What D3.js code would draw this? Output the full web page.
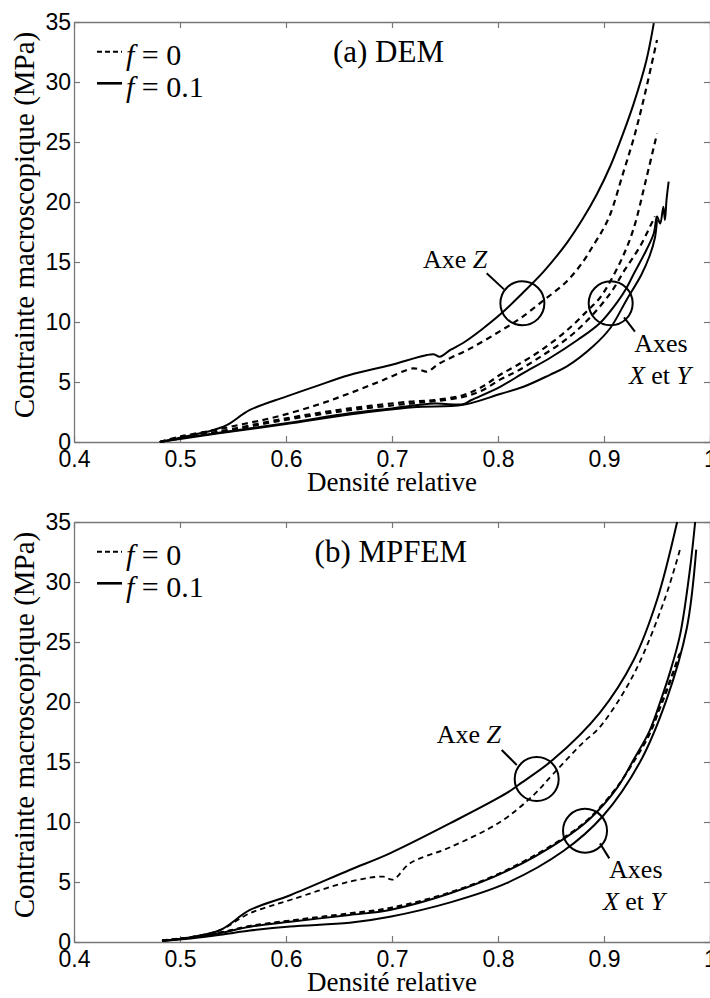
<!DOCTYPE html>
<html><head><meta charset="utf-8">
<script src="https://cdn.jsdelivr.net/npm/d3@7"></script>
<style>body{margin:0;background:#fff}svg{display:block}</style>
</head><body>
<script>
// ---------- data ----------
const xTicks = [0.4, 0.5, 0.6, 0.7, 0.8, 0.9, 1.0];
const xTickLabels = ["0.4", "0.5", "0.6", "0.7", "0.8", "0.9", "1"];
const yTicks = [0, 5, 10, 15, 20, 25, 30, 35];
const xLabel = "Densité relative";
const yLabel = "Contrainte macroscopique (MPa)";
const legendLabels = ["= 0", "= 0.1"];

// (a) DEM
const demZ_f01 = [[0.481,0],[0.50,0.35],[0.52,0.75],[0.528,0.9],[0.544,1.4],[0.566,2.67],[0.60,3.78],[0.63,4.7],[0.66,5.58],[0.698,6.4],[0.733,7.25],[0.74,7.3],[0.745,7.1],[0.755,7.67],[0.767,8.25],[0.785,9.4],[0.803,10.7],[0.823,12.4],[0.843,14.2],[0.865,16.6],[0.88,18.6],[0.893,20.6],[0.906,23.0],[0.918,25.7],[0.928,28.2],[0.94,31.8],[0.947,34.9]];
const demZ_f0 = [[0.481,0],[0.50,0.45],[0.53,0.95],[0.56,1.5],[0.591,2.1],[0.629,3.08],[0.66,4.06],[0.692,5.17],[0.72,6.14],[0.727,6.0],[0.733,5.86],[0.745,6.56],[0.774,7.8],[0.805,9.4],[0.821,10.3],[0.843,11.8],[0.865,13.4],[0.88,15.0],[0.89,16.4],[0.899,17.7],[0.906,19.0],[0.918,22.4],[0.928,25.3],[0.937,28.4],[0.950,33.5]];
const demX_f01 = [[0.481,0],[0.50,0.3],[0.535,0.75],[0.60,1.56],[0.66,2.39],[0.70,2.8],[0.74,3.2],[0.767,3.15],[0.775,3.5],[0.802,4.6],[0.825,5.8],[0.849,7.0],[0.875,8.5],[0.896,9.9],[0.912,11.6],[0.921,12.8],[0.928,14.0],[0.940,16.0],[0.947,17.4],[0.950,18.8],[0.953,18.2],[0.956,19.6],[0.9575,18.5],[0.959,20.2],[0.961,21.7]];
const demY_f01 = [[0.481,0],[0.50,0.25],[0.535,0.7],[0.60,1.5],[0.66,2.3],[0.72,2.9],[0.767,3.1],[0.802,4.0],[0.824,4.6],[0.849,5.6],[0.865,6.3],[0.89,8.0],[0.906,9.5],[0.921,11.8],[0.935,13.9],[0.943,15.5],[0.948,17.0],[0.950,18.5]];
const demX_f0 = [[0.481,0],[0.50,0.4],[0.535,0.85],[0.60,1.97],[0.66,2.8],[0.717,3.36],[0.74,3.5],[0.767,3.9],[0.785,4.6],[0.802,5.6],[0.818,6.4],[0.84,7.6],[0.865,9.3],[0.885,11.0],[0.896,12.0],[0.906,13.4],[0.918,15.5],[0.928,17.8],[0.94,22.0],[0.950,25.7]];
const demY_f0 = [[0.481,0],[0.50,0.35],[0.535,0.8],[0.60,1.85],[0.66,2.65],[0.717,3.2],[0.74,3.4],[0.767,3.75],[0.785,4.3],[0.802,5.2],[0.818,5.9],[0.84,7.1],[0.865,8.6],[0.885,10.2],[0.906,12.4],[0.92,14.4],[0.934,16.3],[0.948,18.8]];

// (b) MPFEM
const mpZ_f01 = [[0.483,0.1],[0.51,0.4],[0.538,1.0],[0.566,2.67],[0.604,3.9],[0.66,6.0],[0.698,7.39],[0.755,9.9],[0.808,12.4],[0.821,13.2],[0.852,15.2],[0.896,19.1],[0.928,23.5],[0.950,28.5],[0.969,35.0]];
const mpZ_f0 = [[0.483,0.1],[0.51,0.4],[0.538,1.0],[0.566,2.4],[0.604,3.5],[0.66,5.03],[0.692,5.44],[0.701,5.2],[0.717,6.56],[0.755,7.9],[0.802,10.0],[0.833,12.2],[0.852,14.0],[0.88,16.6],[0.896,17.9],[0.928,22.3],[0.957,28.5],[0.972,32.8]];
const mpX_f01 = [[0.483,0.1],[0.51,0.35],[0.538,0.75],[0.566,1.28],[0.604,1.69],[0.66,2.25],[0.698,2.67],[0.755,4.06],[0.808,5.9],[0.862,8.6],[0.887,10.3],[0.912,12.8],[0.928,15.2],[0.943,17.6],[0.953,20.0],[0.963,22.7],[0.972,25.7],[0.981,31.0],[0.986,35.0]];
const mpY_f01 = [[0.483,0.1],[0.51,0.3],[0.538,0.6],[0.566,0.95],[0.604,1.3],[0.66,1.6],[0.698,2.1],[0.755,3.3],[0.808,4.9],[0.862,7.6],[0.899,10.5],[0.934,15.0],[0.959,20.2],[0.978,26.1],[0.987,32.7]];
const mpX_f0 = [[0.483,0.15],[0.51,0.4],[0.538,0.8],[0.566,1.35],[0.604,1.8],[0.66,2.4],[0.698,2.85],[0.755,4.15],[0.808,6.0],[0.862,8.7],[0.887,10.4],[0.912,12.9],[0.928,15.0],[0.943,17.3],[0.953,19.5],[0.963,21.8],[0.972,24.1]];
const mpY_f0 = [[0.483,0.12],[0.51,0.38],[0.538,0.78],[0.566,1.3],[0.604,1.75],[0.66,2.32],[0.698,2.75],[0.755,4.1],[0.808,5.95],[0.862,8.65],[0.887,10.35],[0.912,12.85],[0.928,15.1],[0.943,17.4],[0.953,19.7],[0.963,22.0],[0.971,24.0]];

// annotation anchors (data units)
const demAnnot = {zCircle:[0.823,11.56], xyCircle:[0.9063,11.56], zLead:[[0.7893,14.06],[0.8057,12.72]], xyLead:[[0.9189,10.39],[0.9292,9.19]], zText:[0.7292,14.5], axesText:[0.9538,7.53], xyText:[0.9528,4.83]};
const mpAnnot = {zCircle:[0.8365,13.58], xyCircle:[0.8821,9.27], zLead:[[0.8035,16.0],[0.8177,14.75]], xyLead:[[0.8962,8.22],[0.905,6.97]], zText:[0.7422,16.6], axesText:[0.930,5.33], xyText:[0.9283,2.67]};

const panels = [
  {title:"(a) DEM", titleX:0.6443, top:22, bottom:442, dashW:2.2, dash:"6,4.5",
   solid:[demZ_f01, demX_f01, demY_f01], dashed:[demZ_f0, demX_f0, demY_f0], annot:demAnnot},
  {title:"(b) MPFEM", titleX:0.627, top:522, bottom:942, dashW:1.8, dash:"5.5,4",
   solid:[mpZ_f01, mpX_f01, mpY_f01], dashed:[mpZ_f0, mpX_f0, mpY_f0], annot:mpAnnot}
];

// ---------- drawing ----------
const W = 710, H = 998;
const serif = "'Liberation Serif','Times New Roman',serif";
const sans = "'Liberation Sans',Arial,Helvetica,sans-serif";
const svg = d3.select("body").append("svg").attr("width", W).attr("height", H)
  .style("background", "#fff");

const x = d3.scaleLinear().domain([0.4, 1.0]).range([74, 710]);

panels.forEach((p, i) => {
  const y = d3.scaleLinear().domain([0, 35]).range([p.bottom, p.top]);
  const g = svg.append("g");
  const clipId = "clip" + i;
  svg.append("clipPath").attr("id", clipId).append("rect")
    .attr("x", x(0.4)).attr("y", p.top - 1).attr("width", x(1) - x(0.4)).attr("height", p.bottom - p.top + 2);

  // axes (box with inward ticks)
  const axCol = "#777";
  const gx = g.append("g").attr("transform", `translate(0,${p.bottom})`)
    .call(d3.axisBottom(x).tickValues(xTicks).tickFormat((d, k) => xTickLabels[k])
      .tickSizeInner(-6).tickSizeOuter(0).tickPadding(9));
  const gxt = g.append("g").attr("transform", `translate(0,${p.top})`)
    .call(d3.axisTop(x).tickValues(xTicks).tickFormat("").tickSizeInner(-6).tickSizeOuter(0));
  const gy = g.append("g").attr("transform", `translate(${x(0.4)},0)`)
    .call(d3.axisLeft(y).tickValues(yTicks).tickSizeInner(-6).tickSizeOuter(0).tickPadding(3));
  const gyr = g.append("g").attr("transform", `translate(${x(1.0)},0)`)
    .call(d3.axisRight(y).tickValues(yTicks).tickFormat("").tickSizeInner(-6).tickSizeOuter(0));
  [gx, gxt, gy, gyr].forEach(a => {
    a.select(".domain").attr("stroke", axCol).attr("stroke-width", 1.3);
    a.selectAll(".tick line").attr("stroke", axCol).attr("stroke-width", 1.2);
    a.selectAll("text").attr("font-family", sans).attr("font-size", 23).attr("fill", "#000");
  });

  // curves
  const line = d3.line().x(d => x(d[0])).y(d => y(d[1])).curve(d3.curveCatmullRom.alpha(0.5));
  const cg = g.append("g").attr("clip-path", `url(#${clipId})`);
  p.dashed.forEach(s => cg.append("path").datum(s).attr("d", line)
    .attr("fill", "none").attr("stroke", "#000").attr("stroke-width", p.dashW)
    .attr("stroke-dasharray", p.dash));
  p.solid.forEach(s => cg.append("path").datum(s).attr("d", line)
    .attr("fill", "none").attr("stroke", "#000").attr("stroke-width", 2));

  // annotations
  const a = p.annot;
  [a.zCircle, a.xyCircle].forEach(c => g.append("circle")
    .attr("cx", x(c[0])).attr("cy", y(c[1])).attr("r", 22)
    .attr("fill", "none").attr("stroke", "#000").attr("stroke-width", 2));
  [a.zLead, a.xyLead].forEach(l => g.append("line")
    .attr("x1", x(l[0][0])).attr("y1", y(l[0][1])).attr("x2", x(l[1][0])).attr("y2", y(l[1][1]))
    .attr("stroke", "#000").attr("stroke-width", 2));
  const tz = g.append("text").attr("x", x(a.zText[0])).attr("y", y(a.zText[1]))
    .attr("font-family", serif).attr("font-size", 26);
  tz.append("tspan").text("Axe ");
  tz.append("tspan").attr("font-style", "italic").text("Z");
  g.append("text").attr("x", x(a.axesText[0])).attr("y", y(a.axesText[1]))
    .attr("text-anchor", "middle").attr("font-family", serif).attr("font-size", 26).text("Axes");
  const txy = g.append("text").attr("x", x(a.xyText[0])).attr("y", y(a.xyText[1]))
    .attr("text-anchor", "middle").attr("font-family", serif).attr("font-size", 26);
  txy.append("tspan").attr("font-style", "italic").text("X");
  txy.append("tspan").text(" et ");
  txy.append("tspan").attr("font-style", "italic").text("Y");

  // title
  g.append("text").attr("x", x(p.titleX)).attr("y", p.top + 40)
    .attr("font-family", serif).attr("font-size", 31).text(p.title);

  // legend
  const lg = g.append("g");
  const rows = [{dash: "5,3", w: 2, yy: p.top + 29.7, ty: p.top + 43},
                {dash: null, w: 2.6, yy: p.top + 61.3, ty: p.top + 75}];
  rows.forEach((r, k) => {
    const ln = lg.append("line").attr("x1", 97).attr("x2", 122).attr("y1", r.yy).attr("y2", r.yy)
      .attr("stroke", "#000").attr("stroke-width", r.w);
    if (r.dash) ln.attr("stroke-dasharray", r.dash);
    const t = lg.append("text").attr("x", 126).attr("y", r.ty)
      .attr("font-family", serif).attr("font-size", 30);
    t.append("tspan").attr("font-style", "italic").text("f");
    t.append("tspan").text(" " + legendLabels[k]);
  });

  // axis labels
  g.append("text").attr("x", (x(0.4) + x(1.0)) / 2).attr("y", p.bottom + 49)
    .attr("text-anchor", "middle").attr("font-family", serif).attr("font-size", 27).text(xLabel);
  g.append("text").attr("transform", `translate(34,${p.top + 203}) rotate(-90)`)
    .attr("text-anchor", "middle").attr("font-family", serif).attr("font-size", 29).text(yLabel);
});
</script>
</body></html>
